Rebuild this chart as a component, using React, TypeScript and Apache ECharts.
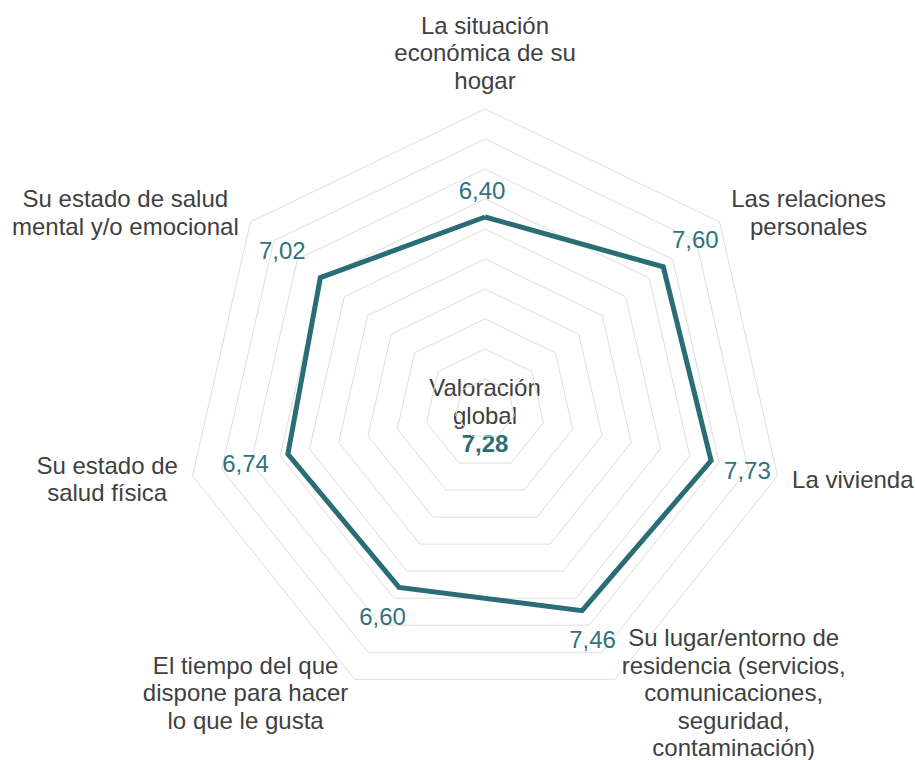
import React, { useEffect, useRef } from 'react';
import * as echarts from 'echarts';

// Categories and values listed clockwise, starting at the top
const categories: string[] = [
  'La situación\neconómica de su\nhogar',
  'Las relaciones\npersonales',
  'La vivienda',
  'Su lugar/entorno de\nresidencia (servicios,\ncomunicaciones,\nseguridad,\ncontaminación)',
  'El tiempo del que\ndispone para hacer\nlo que le gusta',
  'Su estado de\nsalud física',
  'Su estado de salud\nmental y/o emocional',
];
const values: number[] = [6.4, 7.6, 7.73, 7.46, 6.6, 6.74, 7.02];
const globalLabel: string[] = ['Valoración', 'global'];
const globalValue = 7.28;
const scaleMin = 0;
const scaleMax = 10;

const CX = 485;
const CY = 409;
const RADIUS = 300;
const FONT = "'Liberation Sans', Arial, sans-serif";
const TEAL = '#2B6D77';
const TEXT = '#404040';

const fmt = (v: number) => v.toFixed(2).replace('.', ',');

// ECharts radar goes counter-clockwise; reorder so the picture reads clockwise
const order = [0, ...categories.map((_, i) => i).slice(1).reverse()];

export default function App() {
  const ref = useRef<HTMLDivElement>(null);
  useEffect(() => {
    if (!ref.current) return;
    const chart = echarts.init(ref.current, null, { renderer: 'svg' });
    chart.setOption({
      animation: false,
      backgroundColor: '#ffffff',
      textStyle: { fontFamily: FONT },
      radar: {
        center: [CX, CY],
        radius: RADIUS,
        startAngle: 90,
        shape: 'polygon',
        splitNumber: 10,
        axisNameGap: 15,
        indicator: order.map((i) => ({ name: categories[i], min: scaleMin, max: scaleMax })),
        axisName: {
          color: TEXT,
          fontSize: 24,
          lineHeight: 27.5,
          fontFamily: FONT,
          formatter: (name: string) =>
            name
              .split('\n')
              .map((l) => `{c|${l}}`)
              .join('\n'),
          rich: {
            c: {
              align: 'center',
              color: TEXT,
              fontSize: 24,
              lineHeight: 27.5,
              fontFamily: FONT,
            },
          },
        },
        axisLine: { show: false },
        axisTick: { show: false },
        axisLabel: { show: false },
        splitArea: { show: false },
        splitLine: { lineStyle: { color: '#DEDEDE', width: 1 } },
      },
      series: [
        {
          type: 'radar',
          symbol: 'circle',
          symbolSize: 2,
          itemStyle: { color: TEAL },
          lineStyle: { color: TEAL, width: 5, join: 'miter' },
          label: {
            show: true,
            color: '#2E737D',
            fontSize: 24,
            lineHeight: 24,
            fontFamily: FONT,
            formatter: (p: any) => fmt(Number(p.value)),
          },
          labelLayout: (p: any) => {
            const vx = p.rect.x + p.rect.width / 2;
            const vy = p.rect.y + p.rect.height / 2;
            const dx = vx - CX;
            const dy = vy - CY;
            const len = Math.hypot(dx, dy) || 1;
            const ux = dx / len;
            const uy = dy / len;
            const hw = p.labelRect.width / 2;
            const hh = p.labelRect.height / 2;
            const gap = 16;
            const kx = Math.abs(ux) > 1e-3 ? (gap + hw) / Math.abs(ux) : Infinity;
            const ky = Math.abs(uy) > 1e-3 ? (gap + hh) / Math.abs(uy) : Infinity;
            const k = Math.min(kx, ky);
            return {
              x: vx + ux * k - 3,
              y: vy + uy * k + 1,
              align: 'center',
              verticalAlign: 'middle',
            };
          },
          data: [{ value: order.map((i) => values[i]), name: 'Valoración' }],
        },
      ],
      graphic: [
        {
          type: 'text',
          x: CX,
          y: CY + 6,
          style: {
            text:
              globalLabel.map((l) => `{a|${l}}`).join('\n') + `\n{b|${fmt(globalValue)}}`,
            align: 'center',
            verticalAlign: 'middle',
            rich: {
              a: { fontSize: 24, lineHeight: 28, fill: TEXT, fontFamily: FONT, align: 'center' },
              b: {
                fontSize: 24,
                lineHeight: 28,
                fill: TEAL,
                fontWeight: 'bold',
                fontFamily: FONT,
                align: 'center',
              },
            },
          },
        },
      ],
    });
    return () => chart.dispose();
  }, []);
  return (
    <div
      ref={ref}
      style={{ position: 'absolute', left: 0, top: 0, width: 915, height: 760 }}
    />
  );
}
